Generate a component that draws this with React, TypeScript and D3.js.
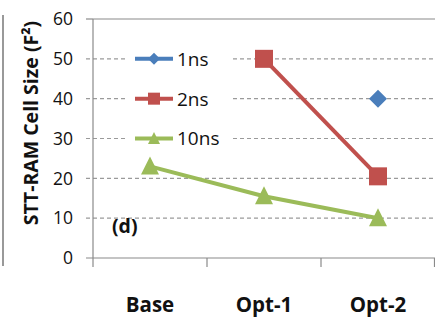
import { useMemo } from "react";
import * as d3 from "d3";

const categories = ["Base", "Opt-1", "Opt-2"];
const seriesNames = ["1ns", "2ns", "10ns"];
const values1ns = [null, null, 40];
const values2ns = [null, 50, 20.5];
const values10ns = [23, 15.5, 10];
const yTicks = [0, 10, 20, 30, 40, 50, 60];

const W = 435;
const H = 320;
const M = { left: 93, right: 0, top: 19, bottom: 62 };
const COLORS = ["#4a7ebb", "#c0504d", "#9bbb59"];
const FONT = "'Open Sans', 'Liberation Sans', sans-serif";

const Marker = ({ kind, x, y, color, s }) => {
  if (kind === 0) {
    return <path d={`M${x},${y - s}L${x + s},${y}L${x},${y + s}L${x - s},${y}Z`} fill={color} />;
  }
  if (kind === 1) {
    return <rect x={x - s} y={y - s} width={2 * s} height={2 * s} fill={color} />;
  }
  return <path d={`M${x},${y - s * 1.1}L${x + s},${y + s * 0.9}L${x - s},${y + s * 0.9}Z`} fill={color} />;
};

export default function App() {
  const data = [values1ns, values2ns, values10ns];

  const x = useMemo(
    () => d3.scaleBand().domain(categories).range([M.left, W - M.right]),
    []
  );
  const y = useMemo(
    () => d3.scaleLinear().domain([0, 60]).range([H - M.bottom, M.top]),
    []
  );

  const line = d3
    .line()
    .defined((d) => d[1] != null)
    .x((d) => x(d[0]) + x.bandwidth() / 2)
    .y((d) => y(d[1]));

  const bottom = y(0);
  const legendRows = seriesNames.map((n, i) => ({ name: n, v: 50 - i * 10 }));

  return (
    <svg
      width={W}
      height={H}
      style={{ position: "absolute", left: 0, top: 0, background: "#fff" }}
      fontFamily={FONT}
    >
      <line x1={3} x2={3} y1={15} y2={266} stroke="#777" strokeWidth={1.5} />

      {/* grid */}
      {yTicks.filter((t) => t > 0 && t < 60).map((t) => (
        <line
          key={t}
          x1={86}
          x2={W}
          y1={y(t)}
          y2={y(t)}
          stroke="#9a9a9a"
          strokeWidth={1.2}
          strokeDasharray="4,3"
        />
      ))}
      <line x1={M.left} x2={W} y1={y(60)} y2={y(60)} stroke="#8a8a8a" strokeWidth={1.2} />

      {/* axes */}
      <line x1={M.left} x2={M.left} y1={y(60)} y2={bottom} stroke="#8a8a8a" strokeWidth={1.2} />
      <line x1={86} x2={W} y1={bottom} y2={bottom} stroke="#8a8a8a" strokeWidth={1.2} />
      <line x1={86} x2={M.left} y1={y(60)} y2={y(60)} stroke="#8a8a8a" strokeWidth={1.2} />
      {[...categories.map((c) => x(c)), W - 0.5].map((px, i) => (
        <line key={i} x1={px} x2={px} y1={bottom} y2={bottom + 9} stroke="#8a8a8a" strokeWidth={1.2} />
      ))}

      {yTicks.map((t) => (
        <text key={t} x={73} y={y(t)} dy="0.36em" textAnchor="end" fontSize={17.5} fill="#111">
          {t}
        </text>
      ))}
      {categories.map((c) => (
        <text
          key={c}
          x={x(c) + x.bandwidth() / 2}
          y={312}
          textAnchor="middle"
          fontSize={20.5}
          fontWeight="bold"
          fill="#111"
        >
          {c}
        </text>
      ))}
      <text
        transform={`translate(38,${123}) rotate(-90)`}
        textAnchor="middle"
        fontSize={19.5}
        fontWeight="bold"
        fill="#111"
      >
        STT-RAM Cell Size (F²)
      </text>

      {/* legend */}
      <rect x={126} y={45} width={106} height={106} fill="#fff" />
      {legendRows.map((r, i) => (
        <g key={r.name}>
          <line x1={135} x2={173} y1={y(r.v)} y2={y(r.v)} stroke={COLORS[i]} strokeWidth={4} />
          <Marker kind={i} x={154} y={y(r.v)} color={COLORS[i]} s={6} />
          <text x={177} y={y(r.v)} dy="0.36em" fontSize={19} fill="#111">
            {r.name}
          </text>
        </g>
      ))}

      {/* series */}
      {data.map((vals, i) => {
        const pts = categories.map((c, j) => [c, vals[j]]);
        return (
          <g key={i}>
            <path d={line(pts)} fill="none" stroke={COLORS[i]} strokeWidth={4} />
            {pts
              .filter((p) => p[1] != null)
              .map((p) => (
                <Marker
                  key={p[0]}
                  kind={i}
                  x={x(p[0]) + x.bandwidth() / 2}
                  y={y(p[1])}
                  color={COLORS[i]}
                  s={9}
                />
              ))}
          </g>
        );
      })}

      <text x={112} y={233} fontSize={19.5} fontWeight="bold" fill="#111">
        (d)
      </text>
    </svg>
  );
}
